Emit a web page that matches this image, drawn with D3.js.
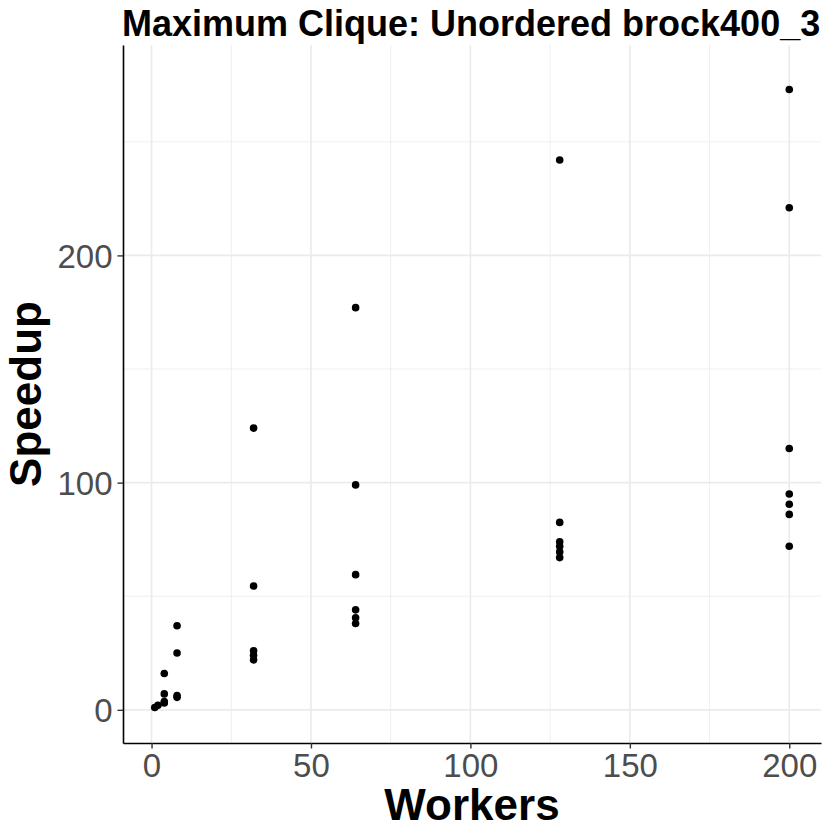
<!DOCTYPE html>
<html>
<head>
<meta charset="utf-8">
<script src="https://cdn.jsdelivr.net/npm/d3@7"></script>
<style>
  body { margin: 0; background: #fff; }
  svg { display: block; font-family: "Liberation Sans", Arial, sans-serif; }
</style>
</head>
<body>
<div id="chart"></div>
<script>
// data
var workers = [1, 2, 4, 4, 4, 4, 8, 8, 8, 8,
  32, 32, 32, 32, 32,
  64, 64, 64, 64, 64, 64,
  128, 128, 128, 128, 128, 128,
  200, 200, 200, 200, 200, 200, 200];
var speedup = [1, 2, 16, 7, 3.6, 3, 37, 25, 6.3, 5.5,
  124, 54.5, 26, 24, 22,
  177, 99, 59.5, 44, 40.5, 38,
  242, 82.5, 74, 72, 69.5, 67,
  273, 221, 115, 95, 90.5, 86, 72];
var xTicks = [0, 50, 100, 150, 200];
var xMinor = [25, 75, 125, 175];
var yTicks = [0, 100, 200];
var yMinor = [50, 150, 250];
var title = "Maximum Clique: Unordered brock400_3";

var w = 830, h = 830;
var margin = { top: 45, right: 9, bottom: 87, left: 123 };

var svg = d3.select("#chart").append("svg")
  .attr("width", w)
  .attr("height", h);

svg.append("rect").attr("width", w).attr("height", h).attr("fill", "#fff");

var x = d3.scaleLinear()
  .domain([-8.95, 209.95])
  .range([margin.left, w - margin.right]);
var y = d3.scaleLinear()
  .domain([-14.6, 292.6])
  .range([h - margin.bottom, margin.top]);

// grid
var grid = svg.append("g");
grid.selectAll(".gxm").data(xMinor).enter().append("line")
  .attr("x1", d => x(d)).attr("x2", d => x(d))
  .attr("y1", margin.top).attr("y2", h - margin.bottom)
  .attr("stroke", "#ebebeb").attr("stroke-width", 0.8);
grid.selectAll(".gym").data(yMinor).enter().append("line")
  .attr("y1", d => y(d)).attr("y2", d => y(d))
  .attr("x1", margin.left).attr("x2", w - margin.right)
  .attr("stroke", "#ebebeb").attr("stroke-width", 0.8);
grid.selectAll(".gx").data(xTicks).enter().append("line")
  .attr("x1", d => x(d)).attr("x2", d => x(d))
  .attr("y1", margin.top).attr("y2", h - margin.bottom)
  .attr("stroke", "#ebebeb").attr("stroke-width", 1.6);
grid.selectAll(".gy").data(yTicks).enter().append("line")
  .attr("y1", d => y(d)).attr("y2", d => y(d))
  .attr("x1", margin.left).attr("x2", w - margin.right)
  .attr("stroke", "#ebebeb").attr("stroke-width", 1.6);

// points
svg.append("g")
  .selectAll("circle")
  .data(workers)
  .enter()
  .append("circle")
  .attr("cx", d => x(d))
  .attr("cy", (d, i) => y(speedup[i]))
  .attr("r", 3.8)
  .attr("fill", "#000");

// axes
var xAxis = svg.append("g")
  .attr("transform", "translate(0," + (h - margin.bottom) + ")")
  .call(d3.axisBottom(x).tickValues(xTicks).tickSize(5.5).tickPadding(5).tickSizeOuter(0));
var yAxis = svg.append("g")
  .attr("transform", "translate(" + margin.left + ",0)")
  .call(d3.axisLeft(y).tickValues(yTicks).tickSize(5.5).tickPadding(5).tickSizeOuter(0));

[xAxis, yAxis].forEach(function (a) {
  a.select(".domain").attr("stroke", "#000").attr("stroke-width", 1.6);
  a.selectAll(".tick line").attr("stroke", "#333").attr("stroke-width", 1.4);
  a.selectAll(".tick text")
    .attr("fill", "#4d4d4d")
    .attr("font-size", "33px")
    .attr("font-family", "Liberation Sans, Arial, sans-serif");
});
xAxis.selectAll(".tick text").attr("dy", "0.71em");
yAxis.selectAll(".tick text").attr("dy", "0.36em");

// titles
svg.append("text")
  .attr("x", 122).attr("y", 36)
  .attr("font-size", "36px").attr("font-weight", "bold")
  .text(title);

svg.append("text")
  .attr("x", (margin.left + w - margin.right) / 2).attr("y", 820)
  .attr("text-anchor", "middle")
  .attr("font-size", "44px").attr("font-weight", "bold")
  .text("Workers");

svg.append("text")
  .attr("transform", "translate(41," + (margin.top + h - margin.bottom) / 2 + ") rotate(-90)")
  .attr("text-anchor", "middle")
  .attr("font-size", "44px").attr("font-weight", "bold")
  .text("Speedup");
</script>
</body>
</html>
